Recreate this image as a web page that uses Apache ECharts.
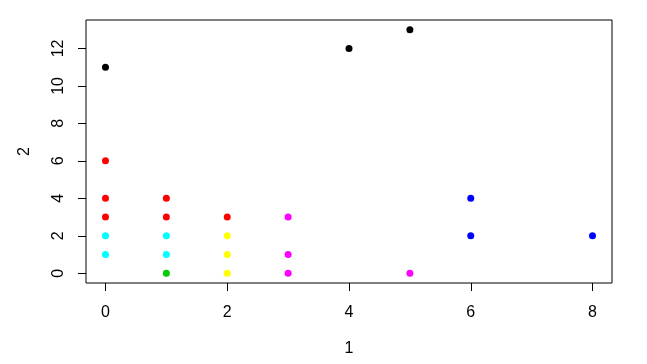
<!DOCTYPE html>
<html>
<head>
<meta charset="utf-8">
<script src="https://cdn.jsdelivr.net/npm/echarts@6/dist/echarts.min.js"></script>
<style>html,body{margin:0;padding:0;background:#fff;}#c{width:647px;height:364px;}</style>
</head>
<body>
<div id="c"></div>
<script>
const xValues = [0, 4, 5, 0, 0, 0, 1, 1, 2, 0, 0, 1, 1, 1, 2, 2, 2, 3, 3, 3, 5, 6, 6, 8];
const yValues = [11, 12, 13, 6, 4, 3, 4, 3, 3, 2, 1, 2, 1, 0, 2, 1, 0, 3, 1, 0, 0, 4, 2, 2];
const groups  = ['black','black','black','red','red','red','red','red','red','cyan','cyan','cyan','cyan','green','yellow','yellow','yellow','magenta','magenta','magenta','magenta','blue','blue','blue'];
const groupColors = {black:'#000000', red:'#FF0000', cyan:'#00FFFF', green:'#00CD00', yellow:'#FFFF00', magenta:'#FF00FF', blue:'#0000FF'};
const xTicks = [0, 2, 4, 6, 8];
const yTicks = [0, 2, 4, 6, 8, 10, 12];
const xTitle = '1';
const yTitle = '2';

const xr = [Math.min(...xValues), Math.max(...xValues)];
const yr = [Math.min(...yValues), Math.max(...yValues)];
const xPad = (xr[1]-xr[0])*0.04, yPad = (yr[1]-yr[0])*0.04;

const data = xValues.map((x,i)=>({value:[x,yValues[i]], itemStyle:{color:groupColors[groups[i]], opacity:1}}));
const font = 'Liberation Sans, Arial, sans-serif';
const chart = echarts.init(document.getElementById('c'));
chart.setOption({
  animation:false,
  grid:{left:86, right:35, top:20, bottom:81, show:true, borderColor:'#000', borderWidth:1, backgroundColor:'transparent'},
  xAxis:{type:'value', min:xr[0]-xPad, max:xr[1]+xPad,
    name:xTitle, nameLocation:'middle', nameGap:58, nameTextStyle:{fontSize:16, color:'#000', fontFamily:font},
    axisLine:{show:false, onZero:false}, splitLine:{show:false},
    axisTick:{show:true, inside:false, length:8, customValues:xTicks, lineStyle:{color:'#000'}},
    axisLabel:{customValues:xTicks, margin:22, fontSize:16, color:'#000', fontFamily:font, formatter:v=>String(v)}},
  yAxis:{type:'value', min:yr[0]-yPad, max:yr[1]+yPad,
    name:yTitle, nameLocation:'middle', nameGap:53, nameRotate:90, nameTextStyle:{fontSize:16, color:'#000', fontFamily:font},
    axisLine:{show:false, onZero:false}, splitLine:{show:false},
    axisTick:{show:true, inside:false, length:8, customValues:yTicks, lineStyle:{color:'#000'}},
    axisLabel:{customValues:yTicks, rotate:90, margin:19, fontSize:16, color:'#000', fontFamily:font, formatter:v=>String(v)}},
  series:[{type:'scatter', symbol:'circle', symbolSize:7, itemStyle:{opacity:1}, data:data}]
});
</script>
</body>
</html>
